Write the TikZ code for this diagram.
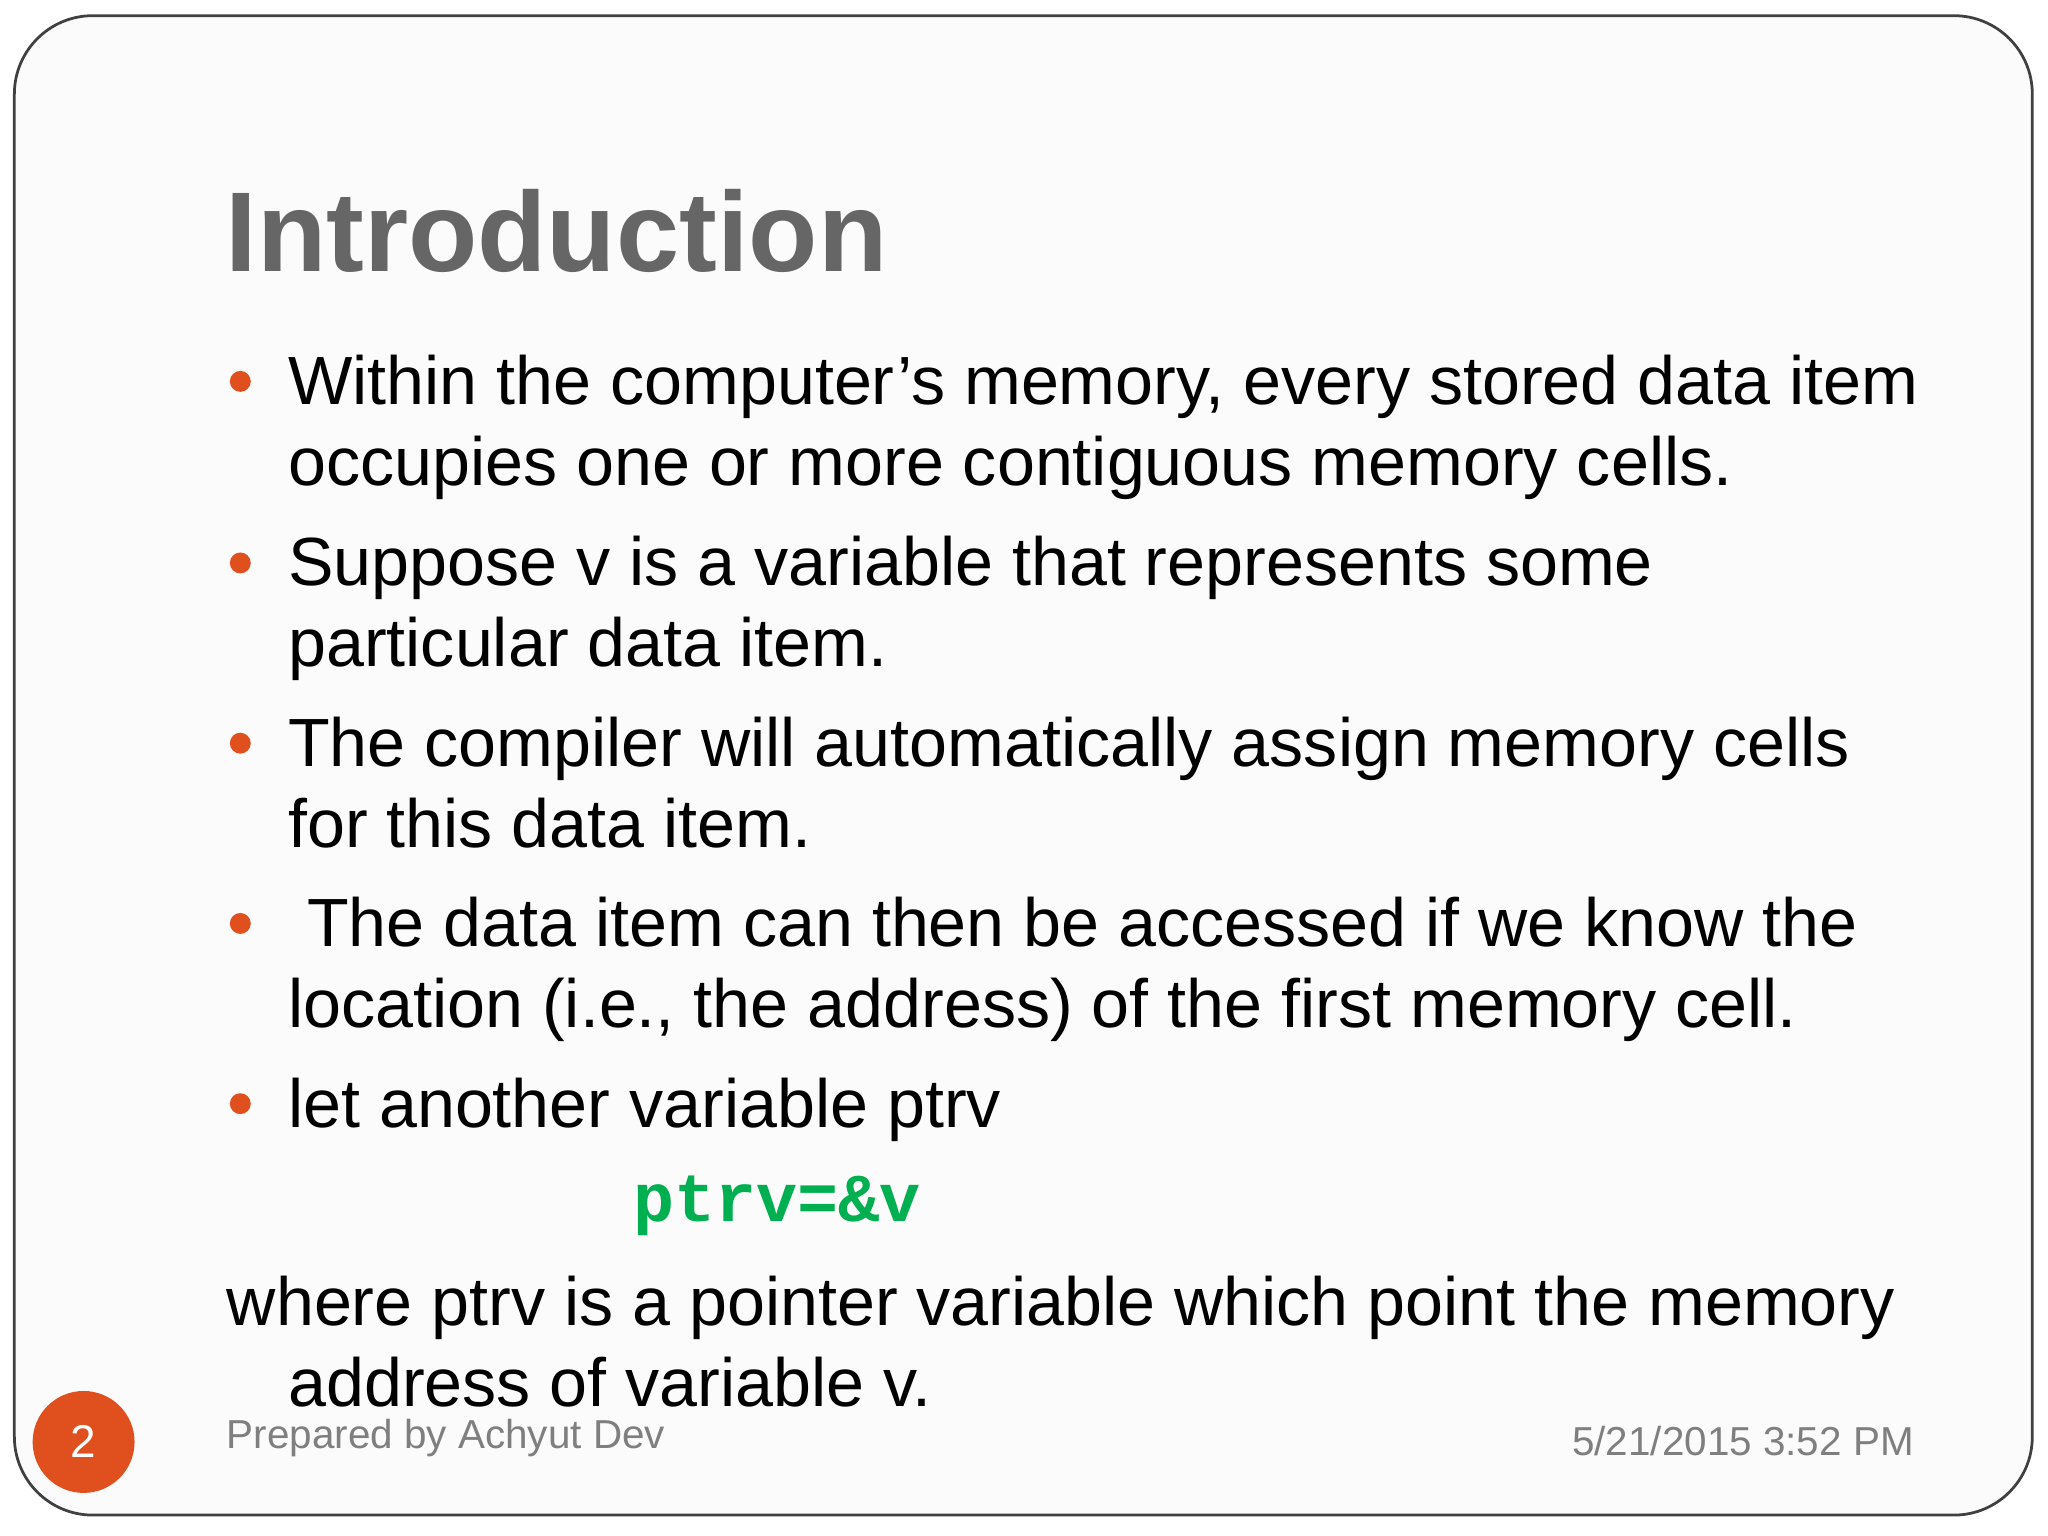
\documentclass[tikz,border=0pt]{standalone}
\usepackage{fontspec}
\setmainfont{Liberation Sans}
\newfontfamily\codefont{Liberation Mono}
\definecolor{bul}{HTML}{E0501E}
\definecolor{titg}{HTML}{666666}
\definecolor{codeg}{HTML}{00B050}
\definecolor{footg}{HTML}{7F7F7F}
\begin{document}
\begin{tikzpicture}[x=0.01cm,y=-0.01cm,
  body/.style={anchor=base west,inner sep=0pt,font=\fontsize{14.85pt}{17pt}\selectfont},
  dot/.style={circle,fill=bul,inner sep=0pt,minimum size=0.16cm}]
\useasboundingbox (0,0) rectangle (1568,1176);
\fill[white] (0,0) rectangle (1568,1176);
\draw[line width=0.6pt,draw=black!75,rounded corners=0.6cm,fill=black!1.5] (11,12) rectangle (1556,1160);
\node[anchor=base west,inner sep=0pt,text=titg,font=\fontsize{24.7pt}{28pt}\selectfont\bfseries] (title) at (172,208) {Introduction};
\foreach \y in {292,431,569,707,845} \node[dot] at (184,\y) {};
\node[body] (l1) at (220,310) {Within the computer’s memory, every stored data item};
\node[body] (l2) at (220,372) {occupies one or more contiguous memory cells.};
\node[body] (l3) at (220,448) {Suppose v is a variable that represents some};
\node[body] (l4) at (220,510) {particular data item.};
\node[body] (l5) at (220,587) {The compiler will automatically assign memory cells};
\node[body] (l6) at (220,649) {for this data item.};
\node[body] (l7) at (220,725) {\ The data item can then be accessed if we know the};
\node[body] (l8) at (220,787) {location (i.e., the address) of the first memory cell.};
\node[body] (l9) at (220,863) {let another variable ptrv};
\node[anchor=base west,inner sep=0pt,text=codeg,font=\codefont\bfseries\fontsize{14.9pt}{17pt}\selectfont] (code) at (484,935) {ptrv=\&v};
\node[body] (l10) at (173,1015) {where ptrv is a pointer variable which point the memory};
\node[body] (l11) at (220,1077) {address of variable v.};
\node[circle,fill=bul,minimum size=0.78cm,inner sep=0pt,text=white,font=\fontsize{10pt}{12pt}\selectfont] (num) at (64,1104) {2};
\node[anchor=base west,inner sep=0pt,text=footg,font=\fontsize{8.8pt}{11pt}\selectfont] (prep) at (173,1109) {Prepared by Achyut Dev};
\node[anchor=base east,inner sep=0pt,text=footg,font=\fontsize{8.8pt}{11pt}\selectfont] (date) at (1466,1114) {5/21/2015 3:52 PM};
\end{tikzpicture}
\end{document}
